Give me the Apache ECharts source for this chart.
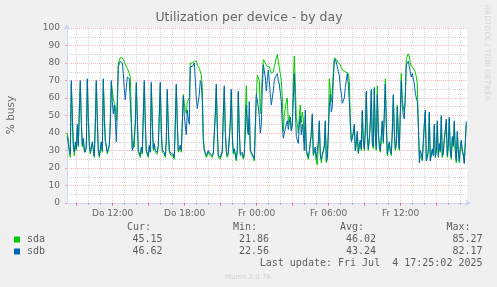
<!DOCTYPE html>
<html><head><meta charset="utf-8">
<script src="https://cdn.jsdelivr.net/npm/echarts@6/dist/echarts.min.js"></script>
<style>html,body{margin:0;padding:0;background:#f0f0f0}#c{width:497px;height:287px}</style>
</head><body><div id="c"></div>
<script>
// ---- data (5-minute samples, % busy) ----
const firstSampleHour = 8.225;          // hours after Do 00:00 of first sample
const sampleStepHours = 5 / 60;
const sda = [
40,36,29,26,68,52,34,27,33,30, 43,32,55,69,48,32,36,29,28,31, 70,50,35,28,27,34,30,26,47,69, 50,31,26,30,34,29,70,52,36,33,
28,30,33,48,69,64,60,57,55,47, 60,80,81,83,84,83,82,81,79,78, 77,76,74,72,50,31,30,32,48,67, 50,29,28,26,31,28,52,69,47,29,
30,26,32,30,68,48,30,33,29,30, 28,32,52,68,42,29,30,28,26,36, 64,44,29,28,27,26,27,25,47,67, 46,29,28,32,29,30,62,57,53,51,
58,57,60,80,80,80,81,81,82,81, 79,78,77,76,73,66,38,31,28,26, 26,29,29,27,28,26,28,29,52,66, 44,26,27,25,27,29,52,66,42,29,
26,28,28,47,64,40,28,30,27,24, 31,63,42,27,26,28,25,27,50,67, 45,40,48,31,28,27,26,24,40,60, 73,72,70,51,62,72,82,81,80,79,
78,79,78,76,74,73,75,78,80,83, 84.8,81,77,74,70,60,41,50,54,58, 60,45,50,48,42,46,70,84,68,49, 45,40,50,56,46,52,48,35,50,29,
27,25,29,34,41,50,27,29,31,24, 21.86,33,46,27,23,27,29,32,46,23, 25,40,71,65,58,64,75,83,82,82, 81,80,80,79,78,76,76,75,75,76,
76,74,70,48,36,38,40,44,30,33, 40,28,32,35,30,52,36,30,42,63, 40,30,36,47,64,34,31,65,40,30, 67,42,32,29,30,46,34,52,71,47,
27,31,34,29,27,42,61,42,30,33, 56,40,30,29,74,58,55,52,60,82, 84,85.27,84,80,78,77,77,77,75,72, 68,46,28,29,27,24,34,44,52,25,
27,29,51,25,27,30,28,44,27,29, 46,26,33,29,49,26,28,36,40,46, 26,32,48,29,25,37,32,46,29,23, 40,29,23,31,35,29,27,23,34,45.15
];
const sdb = [
38,34,30,28,70,48,32,29,35,31, 45,33,50,70,46,33,37,31,29,33, 71,47,33,29,28,35,31,27,44,70, 46,30,27,31,35,30,71,48,35,34,
29,31,33,44,70,58,51,56,48,35, 52,78,79,81,82,80,74,65,59,66, 72,71,71,70,45,30,32,31,45,69, 48,30,29,27,32,29,50,70,45,30,
31,27,33,29,69,45,31,34,30,31, 29,33,50,69,40,30,31,29,27,35, 65,42,30,29,28,27,28,26,45,68, 45,30,29,33,30,31,61,50,44,39,
53,48,45,78,78,78,79,80,79,60, 54,55,62,70,68,58,35,30,29,27, 27,30,30,28,29,27,29,30,50,68, 42,27,28,26,28,30,50,67,40,30,
27,29,29,45,65,38,29,31,28,25, 30,64,40,28,27,29,26,28,40,56, 43,39,58,30,29,28,27,25,45,62, 61,55,49,40,45,65,79,79,72,64,
70,76,70,62,56,56,64,70,72,73, 74,70,68,67,58,45,37,40,40,45, 47,42,46,49,41,44,60,74,55,38, 36,34,45,50,39,45,40,30,53,30,
28,26,30,35,39,51,28,30,32,25, 26,35,47,28,25,28,30,33,47,24, 26,39,55,62,52,55,70,81,82.17,82, 78,75,73,66,63,57,58,60,66,70,
74,68,58,45,35,37,40,45,30,35, 41,29,33,36,31,53,35,31,40,64, 38,31,37,45,65,35,32,66,38,31, 62,40,33,30,31,47,35,50,68,45,
28,32,35,30,28,40,62,40,31,34, 55,38,31,30,70,55,50,48,62,79, 80,81,78,75,72,74,74,68,63,60, 58,45,23,30,28,25,35,45,53,24,
26,30,52,24,28,31,27,45,26,30, 47,27,34,30,50,27,29,37,42,48, 27,33,49,30,26,38,33,47,30,24, 41,30,24,32,36,30,28,22.56,35,46.62
];
const seriesNames = ['sda', 'sdb'];
const tickHours = [12, 18, 24, 30, 36];
const tickLabels = ['Do 12:00', 'Do 18:00', 'Fr 00:00', 'Fr 06:00', 'Fr 12:00'];
const gridHours = [9,10,11,12,13,14,15,16,17,18,19,20,21,22,23,24,25,26,27,28,29,30,31,32,33,34,35,36,37,38,39,40,41];
const majorGridHours = [9,12,15,18,21,24,27,30,33,36,39];
const axisStartHour = 8.2, axisEndHour = 41.533;
const curVals = ['45.15', '46.62'];
const minVals = ['21.86', '22.56'];
const avgVals = ['46.02', '43.24'];
const maxVals = ['85.27', '82.17'];
const lastUpdate = 'Last update: Fri Jul  4 17:25:02 2025';

// ---- chart ----
const colors = ['#00cc00', '#0066b3'];
const toPairs = arr => arr.map((v, i) => [firstSampleHour + i * sampleStepHours, v]);
const chart = echarts.init(document.getElementById('c'), null, {renderer: 'canvas'});
const FONT = 'DejaVu Sans';
const MONO = 'DejaVu Sans Mono';
const TXT = '#5e5e5e';
const red = 'rgba(235,80,80,0.38)', redV = 'rgba(235,80,80,0.3)', gray = 'rgba(150,150,150,0.42)';
const monoText = (x, y, text, align) => ({type: 'text', x: x, y: y, style: {text: text, font: '10px "' + MONO + '"', fill: TXT, align: align, verticalAlign: 'middle'}});
const graphics = [
  {type: 'text', x: 249, y: 18, style: {text: 'Utilization per device - by day', font: '12.5px "' + FONT + '"', fill: '#666', align: 'center', verticalAlign: 'middle'}},
  {type: 'text', x: 11, y: 115, rotation: Math.PI / 2, style: {text: '% busy', font: '10.5px "' + FONT + '"', fill: '#666', align: 'center', verticalAlign: 'middle'}},
  {type: 'text', x: 487, y: 53, rotation: -Math.PI / 2, style: {text: 'RRDTOOL / TOBI OETIKER', font: '7.5px "' + FONT + '"', fill: '#d8d8d8', align: 'center', verticalAlign: 'middle'}},
  {type: 'text', x: 248, y: 277, style: {text: 'Munin 2.0.76', font: '7px "' + FONT + '"', fill: '#cfcfcf', align: 'center', verticalAlign: 'middle'}},
  monoText(151, 227.5, 'Cur:', 'right'), monoText(257, 227.5, 'Min:', 'right'),
  monoText(364, 227.5, 'Avg:', 'right'), monoText(470.5, 227.5, 'Max:', 'right'),
  monoText(482.5, 263.5, lastUpdate, 'right')
];
seriesNames.forEach((n, k) => {
  const y = 239.5 + k * 12;
  graphics.push({type: 'rect', shape: {x: 14, y: y - 3, width: 6, height: 6}, style: {fill: colors[k]}});
  graphics.push(monoText(27, y, n, 'left'));
  graphics.push(monoText(162.5, y, curVals[k], 'right'));
  graphics.push(monoText(269, y, minVals[k], 'right'));
  graphics.push(monoText(376, y, avgVals[k], 'right'));
  graphics.push(monoText(482.5, y, maxVals[k], 'right'));
});

chart.setOption({
  backgroundColor: '#f0f0f0',
  animation: false,
  grid: {left: 67, top: 28, width: 400, height: 175, show: true, backgroundColor: '#ffffff', borderWidth: 0},
  xAxis: [{
    type: 'value', min: axisStartHour, max: axisEndHour,
    axisLine: {show: true, lineStyle: {color: '#CFD6F8', width: 1}, symbol: ['none', 'arrow'], symbolSize: [6, 6], symbolOffset: [0, 4]},
    axisTick: {show: true, customValues: gridHours, length: 2, lineStyle: {color: 'rgba(150,150,150,0.5)'}},
    axisLabel: {customValues: tickHours, formatter: v => tickLabels[tickHours.indexOf(v)], fontFamily: FONT, fontSize: 9, color: '#666', margin: 6},
    splitLine: {show: true, lineStyle: {color: [redV, gray, gray], type: [1, 1], width: 1}}
  }, {
    type: 'value', min: axisStartHour, max: axisEndHour, position: 'bottom',
    axisLine: {show: false}, axisLabel: {show: false}, splitLine: {show: false},
    axisTick: {show: true, customValues: majorGridHours, length: 3, lineStyle: {color: 'rgba(235,80,80,0.6)'}}
  }],
  yAxis: {
    type: 'value', min: 0, max: 100, interval: 10,
    axisLine: {show: true, lineStyle: {color: '#CFD6F8', width: 1}, symbol: ['none', 'arrow'], symbolSize: [6, 6], symbolOffset: [0, 4]},
    axisTick: {show: true, length: 2, lineStyle: {color: 'rgba(235,80,80,0.5)'}},
    axisLabel: {fontFamily: FONT, fontSize: 9, color: '#666', margin: 7},
    splitLine: {show: true, lineStyle: {color: red, type: [1, 1], width: 1}},
    minorTick: {show: false, splitNumber: 2},
    minorSplitLine: {show: true, lineStyle: {color: gray, type: [1, 1], width: 1}}
  },
  series: [
    {name: seriesNames[0], type: 'line', data: toPairs(sda), showSymbol: false, symbol: 'none', lineStyle: {color: colors[0], width: 1}, itemStyle: {color: colors[0]}, sampling: false},
    {name: seriesNames[1], type: 'line', data: toPairs(sdb), showSymbol: false, symbol: 'none', lineStyle: {color: colors[1], width: 1}, itemStyle: {color: colors[1]}, sampling: false}
  ],
  graphic: graphics
});
</script></body></html>
